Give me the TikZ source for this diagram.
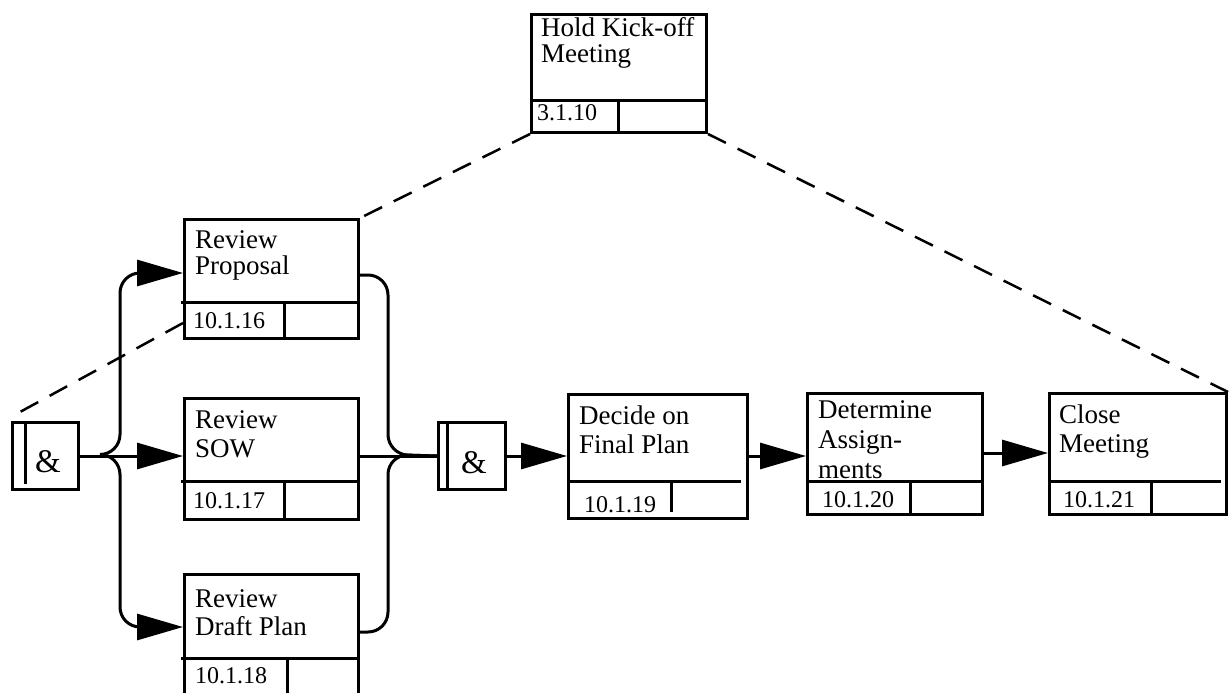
\documentclass[tikz,border=0pt]{standalone}
\usepackage{fontspec}
\setmainfont{Liberation Serif}
\usetikzlibrary{arrows.meta}

\begin{document}
\begin{tikzpicture}[x=1pt,y=-1pt,
  taskbox/.style={draw, line width=3pt, inner sep=0pt, anchor=north west},
  andbox/.style={draw, line width=3pt, inner sep=0pt, anchor=north west,
    minimum width=66pt, minimum height=67pt},
  % titles are placed by the baseline of their last line
  tasktext/.style={anchor=base west, inner sep=0pt, align=left,
    font=\fontsize{27}{#1}\selectfont},
  tasktext/.default=26,
  taskid/.style={anchor=base west, inner sep=0pt, font=\fontsize{24}{26}\selectfont},
  amp/.style={anchor=base, inner sep=0pt, font=\fontsize{33}{34}\selectfont},
  part/.style={line width=3pt},
  flow/.style={line width=3pt, -{Triangle[length=46pt,width=26pt]}},
  brace/.style={line width=3pt, rounded corners=20pt},
  link/.style={line width=2.5pt, dash pattern=on 20pt off 13pt},
]
\useasboundingbox (0,0) rectangle (1229,693);
\clip (0,0) rectangle (1229,693);

% ---- task boxes ----
\node[taskbox, minimum width=175pt, minimum height=118pt] (HK) at (530,13) {};
\draw[part] (530,100) -- (705,100) (618,100) -- (618,131);
\node[tasktext] (HKt) at (541,63) {Hold Kick-off\\Meeting};
\node[taskid] (HKi) at (537,120) {3.1.10};

\node[taskbox, minimum width=174pt, minimum height=119pt] (RP) at (183,218) {};
\draw[part] (181,302) -- (357,302) (284,302) -- (284,337);
\node[tasktext] (RPt) at (195,274) {Review\\Proposal};
\node[taskid] (RPi) at (193,328) {10.1.16};

\node[taskbox, minimum width=174pt, minimum height=121pt] (RS) at (183,397) {};
\draw[part] (181,481) -- (357,481) (284,481) -- (284,518);
\node[tasktext=29] (RSt) at (195,457) {Review\\SOW};
\node[taskid] (RSi) at (193,508) {10.1.17};

\node[taskbox, minimum width=174pt, minimum height=130pt] (RD) at (183,573) {};
\draw[part] (181,658) -- (357,658) (287,658) -- (287,703);
\node[tasktext=28] (RDt) at (195,635) {Review\\Draft Plan};
\node[taskid] (RDi) at (195,683) {10.1.18};

\node[taskbox, minimum width=179pt, minimum height=124pt] (FP) at (567,393) {};
\draw[part] (567,481) -- (741,481) (671,481) -- (671,512);
\node[tasktext=29] (FPt) at (579,453) {Decide on\\Final Plan};
\node[taskid] (FPi) at (584,512) {10.1.19};

\node[taskbox, minimum width=175pt, minimum height=121pt] (DA) at (806,392) {};
\draw[part] (806,481) -- (981,481) (910,481) -- (910,513);
\node[tasktext=30] (DAt) at (818,478) {Determine\\Assign-\\ments};
\node[taskid] (DAi) at (822,507) {10.1.20};

\node[taskbox, minimum width=177pt, minimum height=121pt] (CM) at (1048,392) {};
\draw[part] (1048,481) -- (1221,481) (1151,481) -- (1151,513);
\node[tasktext=29] (CMt) at (1059,452) {Close\\Meeting};
\node[taskid] (CMi) at (1063,507) {10.1.21};

% ---- AND junctions ----
\node[andbox] (A1) at (11,421) {};
\draw[part] (25,424) -- (25,484);
\node[amp] (A1t) at (48,472) {\&};

\node[andbox, minimum width=67pt] (A2) at (437,421) {};
\draw[part] (447,421) -- (447,488);
\node[amp] (A2t) at (474,473) {\&};

% ---- fork ----
\coordinate (jL) at (100,454.5);
\draw[flow] (A1.east) -- (A1.east -| RS.west);
\draw[brace, flow] (jL) -- (120,454.5) -- (120,273) -- (RP.west |- 0,273);
\draw[brace, flow] (jL) -- (120,454.5) -- (120,627) -- (RD.west |- 0,627);

% ---- join ----
\draw[part] (RS.east |- A2.west) -- (A2.west);
\draw[brace] (RP.east |- 0,275) -- (388,275) -- (388,454.5) -- (A2.west);
\draw[brace] (RD.east |- 0,632) -- (388,632) -- (388,454.5) -- (A2.west);

% ---- sequence ----
\draw[flow] (A2.east) -- (A2.east -| FP.west);
\draw[flow] (FP.east |- A2.east) -- (DA.west |- A2.east);
\draw[flow] (DA.east |- 0,453) -- (CM.west |- 0,453);

% ---- decomposition links ----
\draw[link] (HK.south west) -- (RP.north east);
\draw[link] (HK.south east) -- (CM.north east);
\draw[link] (RP.west |- 0,323) -- ([shift={(9,-9)}]A1.north west);
\end{tikzpicture}
\end{document}
